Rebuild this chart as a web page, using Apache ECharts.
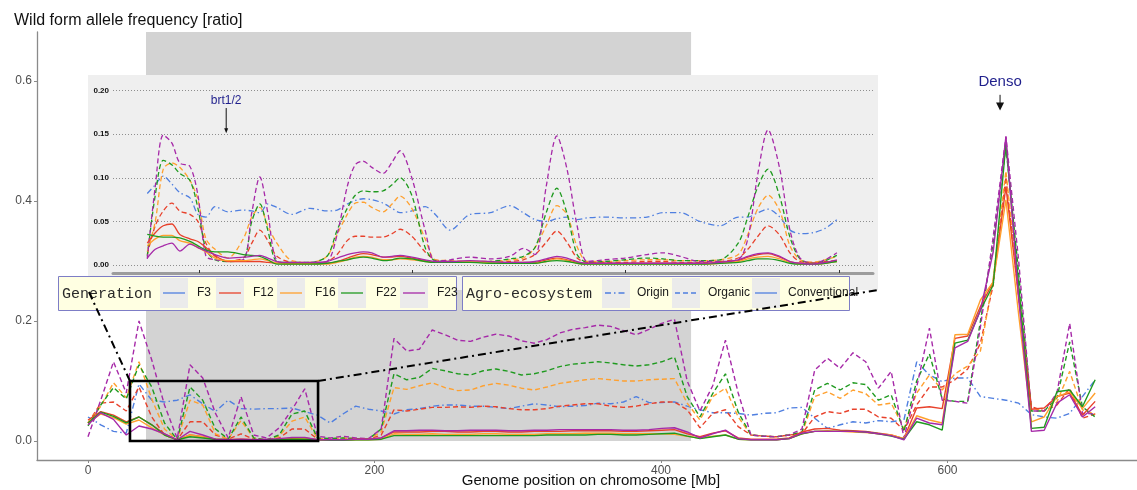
<!DOCTYPE html>
<html>
<head>
<meta charset="utf-8">
<script src="https://cdn.jsdelivr.net/npm/echarts@6/dist/echarts.min.js"></script>
<style>
  html, body { margin: 0; padding: 0; background: #ffffff; }
  #chart { width: 1137px; height: 490px; }
</style>
</head>
<body>
<div id="chart"></div>
<script>
// ---------- Genome-wide scan (windows along the chromosome, Mb) ----------
const positionMb = [
  0, 8.9, 17.8, 26.7, 35.6, 44.5, 53.4, 62.3, 71.2, 80.1,
  89.0, 97.9, 106.8, 115.7, 124.6, 133.5, 142.4, 151.3, 160.2, 169.1,
  178.0, 186.9, 195.8, 204.7, 213.6, 222.5, 231.4, 240.3, 249.2, 258.1,
  267.0, 275.9, 284.8, 293.7, 302.6, 311.5, 320.4, 329.3, 338.2, 347.1,
  356.0, 364.9, 373.8, 382.7, 391.6, 400.5, 409.4, 418.3, 427.2, 436.1,
  445.0, 453.9, 462.8, 471.7, 480.6, 489.5, 498.4, 507.3, 516.2, 525.1,
  534.0, 542.9, 551.8, 560.7, 569.6, 578.5, 587.4, 596.3, 605.2, 614.1,
  623.0, 631.9, 640.8, 649.7, 658.6, 667.5, 676.4, 685.3, 694.2, 703.1
];

const originF3 = [
  0.04, 0.027, 0.016, 0.013, 0.095, 0.068, 0.065, 0.068, 0.077, 0.062,
  0.049, 0.068, 0.054, 0.053, 0.054, 0.054, 0.055, 0.049, 0.043, 0.03,
  0.045, 0.058, 0.053, 0.05, 0.045, 0.052, 0.054, 0.058, 0.06, 0.06,
  0.058, 0.058, 0.056, 0.054, 0.058, 0.062, 0.06, 0.057, 0.058, 0.059,
  0.063, 0.062, 0.065, 0.074, 0.064, 0.064, 0.065, 0.058, 0.052, 0.047,
  0.047, 0.046, 0.043, 0.046, 0.047, 0.055, 0.056, 0.038, 0.021, 0.027,
  0.032, 0.03, 0.034, 0.032, 0.035, 0.132, 0.11, 0.099, 0.105, 0.105,
  0.074, 0.071, 0.068, 0.063, 0.044, 0.04, 0.038, 0.046, 0.074, 0.102
];

const organicF12 = [
  0.03, 0.063, 0.065, 0.05, 0.09, 0.04, 0.01, 0.002, 0.032, 0.032,
  0.01, 0.003, 0.012, 0.003, 0.002, 0.005, 0.02, 0.02, 0.003, 0.003,
  0.003, 0.003, 0.003, 0.01, 0.052, 0.05, 0.053, 0.056, 0.056, 0.057,
  0.056, 0.058, 0.057, 0.054, 0.052, 0.052, 0.054, 0.058, 0.06, 0.062,
  0.062, 0.058, 0.056, 0.058, 0.062, 0.065, 0.065, 0.052, 0.022, 0.046,
  0.052, 0.024, 0.01, 0.008, 0.007, 0.01, 0.012, 0.04, 0.049, 0.046,
  0.053, 0.053, 0.04, 0.038, 0.018, 0.06, 0.09, 0.09, 0.102, 0.12,
  0.163, 0.26, 0.44, 0.24, 0.057, 0.05, 0.06, 0.088, 0.038, 0.045
];

const organicF16 = [
  0.03, 0.058, 0.097, 0.072, 0.132, 0.07, 0.02, 0.002, 0.068, 0.06,
  0.012, 0.003, 0.034, 0.005, 0.002, 0.008, 0.033, 0.04, 0.004, 0.004,
  0.005, 0.004, 0.003, 0.015, 0.089, 0.086, 0.092, 0.097, 0.089, 0.084,
  0.085, 0.092, 0.096, 0.093, 0.088, 0.085, 0.09, 0.096, 0.099, 0.102,
  0.104, 0.102, 0.1, 0.1, 0.102, 0.103, 0.104, 0.063, 0.035, 0.074,
  0.088, 0.04, 0.01, 0.008, 0.007, 0.01, 0.012, 0.074, 0.082, 0.071,
  0.085, 0.079, 0.06, 0.063, 0.021, 0.08, 0.11, 0.085, 0.112, 0.125,
  0.15, 0.27, 0.45, 0.25, 0.055, 0.05, 0.065, 0.116, 0.052, 0.045
];

const organicF22 = [
  0.025, 0.06, 0.089, 0.07, 0.127, 0.09, 0.03, 0.002, 0.09, 0.068,
  0.02, 0.003, 0.04, 0.005, 0.002, 0.01, 0.045, 0.05, 0.005, 0.004,
  0.005, 0.004, 0.003, 0.02, 0.112, 0.102, 0.106, 0.121, 0.117, 0.112,
  0.11, 0.117, 0.12, 0.116, 0.11, 0.112, 0.117, 0.124, 0.128, 0.13,
  0.132, 0.13, 0.127, 0.125, 0.127, 0.132, 0.14, 0.074, 0.04, 0.079,
  0.112, 0.048, 0.01, 0.008, 0.007, 0.01, 0.015, 0.085, 0.096, 0.085,
  0.097, 0.094, 0.068, 0.077, 0.016, 0.1, 0.145, 0.07, 0.066, 0.066,
  0.2, 0.33, 0.49, 0.28, 0.05, 0.05, 0.072, 0.165, 0.057, 0.04
];

const organicF23 = [
  0.007, 0.068, 0.132, 0.08, 0.2, 0.135, 0.06, 0.004, 0.127, 0.105,
  0.046, 0.005, 0.074, 0.01, 0.005, 0.022, 0.052, 0.087, 0.008, 0.005,
  0.008, 0.005, 0.004, 0.02, 0.171, 0.15, 0.153, 0.185, 0.177, 0.168,
  0.166, 0.173, 0.178, 0.175, 0.167, 0.163, 0.169, 0.18, 0.186, 0.189,
  0.193, 0.191, 0.184, 0.177, 0.186, 0.196, 0.203, 0.1, 0.05, 0.092,
  0.168, 0.08, 0.01, 0.008, 0.007, 0.01, 0.02, 0.118, 0.138, 0.121,
  0.147, 0.132, 0.088, 0.116, 0.005, 0.09, 0.188, 0.068, 0.066, 0.063,
  0.19, 0.34, 0.507, 0.3, 0.05, 0.05, 0.08, 0.196, 0.046, 0.045
];

const conventionalF12 = [
  0.035, 0.049, 0.043, 0.032, 0.04, 0.027, 0.012, 0.002, 0.01, 0.007,
  0.003, 0.002, 0.003, 0.002, 0.002, 0.003, 0.004, 0.005, 0.002, 0.002,
  0.002, 0.003, 0.003, 0.005, 0.015, 0.015, 0.015, 0.016, 0.016, 0.015,
  0.015, 0.016, 0.016, 0.015, 0.015, 0.016, 0.016, 0.016, 0.017, 0.017,
  0.017, 0.017, 0.016, 0.016, 0.017, 0.018, 0.019, 0.012, 0.007, 0.013,
  0.017, 0.005, 0.003, 0.003, 0.003, 0.005, 0.015, 0.02, 0.021, 0.018,
  0.017, 0.016, 0.013, 0.01, 0.004, 0.055, 0.057, 0.054, 0.171, 0.175,
  0.224, 0.265, 0.424, 0.24, 0.053, 0.055, 0.074, 0.08, 0.043, 0.066
];

const conventionalF16 = [
  0.03, 0.045, 0.039, 0.028, 0.035, 0.022, 0.01, 0.002, 0.01, 0.007,
  0.003, 0.002, 0.003, 0.002, 0.002, 0.002, 0.003, 0.004, 0.002, 0.001,
  0.001, 0.002, 0.002, 0.003, 0.012, 0.011, 0.011, 0.012, 0.011, 0.011,
  0.011, 0.012, 0.012, 0.011, 0.011, 0.011, 0.012, 0.012, 0.012, 0.013,
  0.013, 0.013, 0.012, 0.012, 0.012, 0.012, 0.011, 0.008, 0.005, 0.008,
  0.01, 0.003, 0.002, 0.002, 0.002, 0.004, 0.012, 0.016, 0.017, 0.016,
  0.015, 0.014, 0.012, 0.01, 0.004, 0.042, 0.035, 0.03, 0.177, 0.178,
  0.235, 0.265, 0.402, 0.21, 0.032, 0.04, 0.074, 0.082, 0.054, 0.08
];

const conventionalF22 = [
  0.03, 0.048, 0.041, 0.03, 0.04, 0.027, 0.01, 0.002, 0.007, 0.005,
  0.003, 0.002, 0.002, 0.002, 0.002, 0.002, 0.003, 0.003, 0.002, 0.001,
  0.001, 0.002, 0.002, 0.003, 0.009, 0.009, 0.009, 0.009, 0.009, 0.009,
  0.009, 0.009, 0.009, 0.009, 0.009, 0.009, 0.01, 0.01, 0.01, 0.01,
  0.011, 0.011, 0.01, 0.01, 0.011, 0.012, 0.013, 0.008, 0.004, 0.007,
  0.01, 0.003, 0.002, 0.002, 0.002, 0.004, 0.012, 0.016, 0.016, 0.016,
  0.016, 0.015, 0.012, 0.008, 0.003, 0.032, 0.027, 0.018, 0.163, 0.168,
  0.218, 0.26, 0.496, 0.26, 0.021, 0.023, 0.082, 0.085, 0.057, 0.102
];

const conventionalF23 = [
  0.027, 0.047, 0.036, 0.01, 0.025, 0.02, 0.012, 0.002, 0.016, 0.01,
  0.003, 0.002, 0.003, 0.002, 0.003, 0.004, 0.006, 0.006, 0.002, 0.002,
  0.002, 0.003, 0.003, 0.005, 0.017, 0.017, 0.018, 0.018, 0.017, 0.017,
  0.018, 0.018, 0.018, 0.017, 0.017, 0.018, 0.018, 0.019, 0.019, 0.019,
  0.019, 0.019, 0.018, 0.018, 0.019, 0.021, 0.022, 0.015, 0.005, 0.012,
  0.018, 0.004, 0.002, 0.002, 0.002, 0.004, 0.013, 0.016, 0.016, 0.016,
  0.016, 0.015, 0.012, 0.009, 0.002, 0.038, 0.03, 0.027, 0.155, 0.166,
  0.218, 0.315, 0.508, 0.238, 0.016, 0.018, 0.063, 0.077, 0.04, 0.057
];

// ---------- Fine-scale scan of the 30-160 Mb window ----------
const insetPositionMb = [
  30.3, 31.8, 33.3, 34.9, 36.4, 38.3, 39.8, 41.3, 43.0, 45.4,
  48.3, 49.9, 51.4, 52.9, 54.6, 57.4, 60.8, 64.0, 65.9, 67.8,
  69.3, 70.8, 72.4, 74.5, 76.2, 77.7, 79.9, 82.4, 84.3, 87.1,
  90.8, 94.6, 98.3, 100.8, 103.0, 105.1, 107.1, 109.0, 110.9, 112.8,
  116.1, 119.9, 124.0, 127.0, 130.2, 133.9, 137.7, 141.1, 142.9, 144.8,
  146.7, 148.9, 150.8, 152.7, 155.1, 157.4, 159.6
];

const insetOriginF3 = [
  0.082, 0.092, 0.102, 0.093, 0.083, 0.077, 0.058, 0.055, 0.067, 0.061,
  0.063, 0.062, 0.06, 0.07, 0.066, 0.058, 0.065, 0.062, 0.063, 0.07,
  0.074, 0.076, 0.075, 0.071, 0.065, 0.06, 0.062, 0.067, 0.058, 0.04,
  0.058, 0.06, 0.068, 0.06, 0.052, 0.05, 0.053, 0.055, 0.052, 0.054,
  0.055, 0.054, 0.055, 0.06, 0.06, 0.05, 0.045, 0.055, 0.055, 0.06,
  0.064, 0.055, 0.04, 0.036, 0.037, 0.042, 0.052
];

const insetOrganicF12 = [
  0.012, 0.045, 0.062, 0.071, 0.062, 0.058, 0.05, 0.025, 0.01, 0.005,
  0.008, 0.025, 0.04, 0.028, 0.01, 0.003, 0.002, 0.004, 0.012, 0.028,
  0.033, 0.033, 0.032, 0.032, 0.036, 0.041, 0.033, 0.015, 0.006, 0.004,
  0.003, 0.003, 0.004, 0.006, 0.012, 0.026, 0.039, 0.026, 0.008, 0.003,
  0.003, 0.003, 0.004, 0.004, 0.003, 0.003, 0.004, 0.008, 0.018, 0.033,
  0.045, 0.034, 0.014, 0.004, 0.003, 0.004, 0.005
];

const insetOrganicF16 = [
  0.015, 0.05, 0.11, 0.117, 0.112, 0.097, 0.075, 0.03, 0.018, 0.008,
  0.03, 0.055, 0.066, 0.045, 0.025, 0.005, 0.003, 0.01, 0.035, 0.058,
  0.071, 0.072, 0.066, 0.061, 0.07, 0.079, 0.065, 0.03, 0.006, 0.005,
  0.004, 0.004, 0.006, 0.008, 0.02, 0.045, 0.068, 0.058, 0.021, 0.004,
  0.004, 0.005, 0.006, 0.006, 0.005, 0.005, 0.006, 0.012, 0.035, 0.065,
  0.08, 0.062, 0.022, 0.006, 0.003, 0.006, 0.01
];

const insetOrganicF22 = [
  0.01, 0.08, 0.12, 0.115, 0.105, 0.097, 0.065, 0.018, 0.006, 0.004,
  0.006, 0.05, 0.07, 0.04, 0.004, 0.003, 0.003, 0.01, 0.04, 0.065,
  0.08, 0.085, 0.084, 0.085, 0.092, 0.1, 0.08, 0.02, 0.005, 0.004,
  0.003, 0.004, 0.007, 0.01, 0.02, 0.06, 0.088, 0.059, 0.012, 0.003,
  0.004, 0.006, 0.008, 0.007, 0.005, 0.005, 0.006, 0.025, 0.055, 0.09,
  0.11, 0.078, 0.032, 0.007, 0.002, 0.005, 0.011
];

const insetOrganicF23 = [
  0.007, 0.09, 0.149, 0.14, 0.117, 0.113, 0.08, 0.01, 0.006, 0.005,
  0.006, 0.06, 0.101, 0.06, 0.005, 0.002, 0.002, 0.004, 0.035, 0.09,
  0.115, 0.119, 0.112, 0.105, 0.118, 0.131, 0.1, 0.04, 0.004, 0.006,
  0.009, 0.007, 0.01, 0.019, 0.012, 0.09, 0.148, 0.11, 0.045, 0.004,
  0.006, 0.008, 0.012, 0.014, 0.01, 0.004, 0.004, 0.006, 0.03, 0.105,
  0.155, 0.11, 0.04, 0.008, 0.002, 0.006, 0.014
];

const insetConventionalF12 = [
  0.025, 0.037, 0.045, 0.047, 0.035, 0.03, 0.027, 0.02, 0.011, 0.004,
  0.004, 0.004, 0.004, 0.003, 0.002, 0.002, 0.002, 0.002, 0.004, 0.008,
  0.011, 0.013, 0.012, 0.009, 0.009, 0.01, 0.008, 0.005, 0.003, 0.004,
  0.004, 0.003, 0.003, 0.003, 0.003, 0.006, 0.008, 0.006, 0.003, 0.002,
  0.002, 0.002, 0.002, 0.002, 0.002, 0.002, 0.003, 0.005, 0.009, 0.012,
  0.013, 0.009, 0.004, 0.002, 0.002, 0.003, 0.005
];

const insetConventionalF16 = [
  0.022, 0.03, 0.034, 0.034, 0.028, 0.025, 0.02, 0.015, 0.008, 0.005,
  0.005, 0.006, 0.007, 0.005, 0.002, 0.001, 0.001, 0.001, 0.003, 0.006,
  0.009, 0.01, 0.009, 0.006, 0.006, 0.007, 0.006, 0.004, 0.003, 0.003,
  0.004, 0.003, 0.002, 0.002, 0.002, 0.004, 0.007, 0.005, 0.002, 0.001,
  0.001, 0.001, 0.001, 0.001, 0.001, 0.001, 0.002, 0.004, 0.007, 0.009,
  0.01, 0.007, 0.003, 0.001, 0.001, 0.002, 0.004
];

const insetConventionalF22 = [
  0.035, 0.033, 0.032, 0.032, 0.031, 0.027, 0.022, 0.017, 0.015, 0.015,
  0.012, 0.011, 0.01, 0.006, 0.001, 0.001, 0.001, 0.002, 0.004, 0.006,
  0.008, 0.009, 0.008, 0.005, 0.006, 0.008, 0.007, 0.004, 0.003, 0.003,
  0.003, 0.002, 0.002, 0.002, 0.002, 0.004, 0.005, 0.004, 0.002, 0.001,
  0.001, 0.001, 0.001, 0.001, 0.001, 0.001, 0.002, 0.003, 0.005, 0.007,
  0.007, 0.005, 0.002, 0.001, 0.001, 0.002, 0.004
];

const insetConventionalF23 = [
  0.008, 0.018, 0.022, 0.025, 0.016, 0.024, 0.02, 0.016, 0.012, 0.008,
  0.009, 0.01, 0.011, 0.008, 0.004, 0.003, 0.003, 0.004, 0.008, 0.012,
  0.014, 0.015, 0.014, 0.009, 0.01, 0.011, 0.009, 0.006, 0.004, 0.004,
  0.005, 0.004, 0.003, 0.003, 0.004, 0.007, 0.01, 0.008, 0.004, 0.002,
  0.002, 0.002, 0.002, 0.002, 0.002, 0.002, 0.003, 0.006, 0.01, 0.013,
  0.014, 0.01, 0.004, 0.002, 0.001, 0.003, 0.006
];

// ---------- Labels and annotated regions ----------
const generations = ['F3', 'F12', 'F16', 'F22', 'F23'];
const ecosystems = ['Origin', 'Organic', 'Conventional'];
const mainYTicks = [0, 0.2, 0.4, 0.6];
const mainXTicks = [0, 200, 400, 600];
const insetYTicks = [0, 0.05, 0.1, 0.15, 0.2];
const insetXTicks = [40, 80, 120, 160];
const shadedRegionMb = [40.5, 421];
const zoomWindowMb = [29.3, 160.6];
const zoomWindowFreq = [0, 0.1];
const densoMark = { mb: 636.7, label: 0.598, from: 0.577, to: 0.551 };
const brtMark = { mb: 45.1, label: 0.189, from: 0.18, to: 0.151 };
const xAxisTitle = 'Genome position on chromosome [Mb]';

// ---------- Styling ----------
const FONT = '"Liberation Sans", Arial, sans-serif';
const MONO = '"Liberation Mono", "DejaVu Sans Mono", monospace';
const generationColor = { F3: '#4f7fe0', F12: '#e8412b', F16: '#ffa02e', F22: '#1f9a1f', F23: '#a629a8' };
const ecosystemDash = { Origin: [6, 3, 1.5, 3], Organic: [5, 3], Conventional: 'solid' };
const MAIN_Y = [-0.0317, 0.6817];
const MAIN_X = [-35.6, 732.3];

function lineSeries(xs, ys, gen, eco, grid) {
  return {
    type: 'line',
    name: eco + ' ' + gen,
    xAxisIndex: grid, yAxisIndex: grid,
    data: xs.map((x, k) => [x, ys[k]]),
    symbol: 'none', showSymbol: false, silent: true,
    smooth: grid === 1 ? 0.3 : false,
    z: grid === 1 ? 20 : 2,
    lineStyle: { color: generationColor[gen], width: grid === 1 ? 1.3 : 1.4, type: ecosystemDash[eco] }
  };
}

const mainSeries = [
  lineSeries(positionMb, originF3, 'F3', 'Origin', 0),
  lineSeries(positionMb, organicF12, 'F12', 'Organic', 0),
  lineSeries(positionMb, organicF16, 'F16', 'Organic', 0),
  lineSeries(positionMb, organicF22, 'F22', 'Organic', 0),
  lineSeries(positionMb, organicF23, 'F23', 'Organic', 0),
  lineSeries(positionMb, conventionalF12, 'F12', 'Conventional', 0),
  lineSeries(positionMb, conventionalF16, 'F16', 'Conventional', 0),
  lineSeries(positionMb, conventionalF22, 'F22', 'Conventional', 0),
  lineSeries(positionMb, conventionalF23, 'F23', 'Conventional', 0)
];
// shaded block behind the curves
mainSeries[0].markArea = {
  silent: true, z: 1,
  itemStyle: { color: '#d3d3d3' },
  data: [[{ xAxis: shadedRegionMb[0], yAxis: 0 }, { xAxis: shadedRegionMb[1], yAxis: MAIN_Y[1] }]]
};
// outline of the zoomed window
mainSeries[1].markArea = {
  silent: true, z: 6,
  itemStyle: { color: 'rgba(0,0,0,0)', borderColor: '#000', borderWidth: 2.6 },
  data: [[{ xAxis: zoomWindowMb[0], yAxis: zoomWindowFreq[0] }, { xAxis: zoomWindowMb[1], yAxis: zoomWindowFreq[1] }]]
};

const insetSeries = [
  lineSeries(insetPositionMb, insetOriginF3, 'F3', 'Origin', 1),
  lineSeries(insetPositionMb, insetOrganicF12, 'F12', 'Organic', 1),
  lineSeries(insetPositionMb, insetOrganicF16, 'F16', 'Organic', 1),
  lineSeries(insetPositionMb, insetOrganicF22, 'F22', 'Organic', 1),
  lineSeries(insetPositionMb, insetOrganicF23, 'F23', 'Organic', 1),
  lineSeries(insetPositionMb, insetConventionalF12, 'F12', 'Conventional', 1),
  lineSeries(insetPositionMb, insetConventionalF16, 'F16', 'Conventional', 1),
  lineSeries(insetPositionMb, insetConventionalF22, 'F22', 'Conventional', 1),
  lineSeries(insetPositionMb, insetConventionalF23, 'F23', 'Conventional', 1)
];

const isTick = (v, list) => list.some(t => Math.abs(t - v) < 1e-6);

const option = {
  animation: false,
  backgroundColor: '#ffffff',
  textStyle: { fontFamily: FONT },
  title: {
    text: 'Wild form allele frequency [ratio]',
    left: 9, top: 8,
    textStyle: { fontFamily: FONT, fontSize: 16, fontWeight: 'normal', color: '#111' }
  },
  grid: [
    { left: 37, right: 0, top: 32, bottom: 30, containLabel: false, outerBoundsMode: 'none' },
    { left: 113, top: 90.6, width: 760, height: 182.4, containLabel: false, outerBoundsMode: 'none' }
  ],
  xAxis: [
    {
      type: 'value', gridIndex: 0, min: MAIN_X[0], max: MAIN_X[1],
      axisLine: { onZero: false, lineStyle: { color: '#8a8a8a', width: 1.3 } },
      axisTick: { length: 3, customValues: mainXTicks, lineStyle: { color: '#8a8a8a' } },
      axisLabel: { customValues: mainXTicks, color: '#4d4d4d', fontSize: 12, margin: 5,
        formatter: v => isTick(v, mainXTicks) ? String(v) : '' },
      splitLine: { show: false }
    },
    {
      type: 'value', gridIndex: 1, min: 23.875, max: 166.375, z: 15,
      axisLine: { onZero: false, lineStyle: { color: '#9c9c9c', width: 3 } },
      axisTick: { inside: true, length: 3, customValues: insetXTicks, lineStyle: { color: '#333' } },
      axisLabel: { show: false },
      splitLine: { show: false }
    }
  ],
  yAxis: [
    {
      type: 'value', gridIndex: 0, min: MAIN_Y[0], max: MAIN_Y[1],
      axisLine: { show: true, onZero: false, lineStyle: { color: '#8a8a8a', width: 1.3 } },
      axisTick: { show: true, length: 3, customValues: mainYTicks, lineStyle: { color: '#8a8a8a' } },
      axisLabel: { customValues: mainYTicks, color: '#4d4d4d', fontSize: 12, margin: 5,
        formatter: v => isTick(v, mainYTicks) ? v.toFixed(1) : '' },
      splitLine: { show: false }
    },
    {
      type: 'value', gridIndex: 1, min: -0.00917, max: 0.2, z: 15,
      axisLine: { show: false, onZero: false },
      axisTick: { show: false, customValues: insetYTicks },
      axisLabel: { customValues: insetYTicks, color: '#111', fontSize: 8, fontWeight: 'bold', margin: 4,
        formatter: v => isTick(v, insetYTicks) ? v.toFixed(2) : '' },
      splitLine: { show: true, lineStyle: { color: '#8e8e8e', width: 1, type: [1, 2] } }
    }
  ],
  series: mainSeries.concat(insetSeries)
};

const chart = echarts.init(document.getElementById('chart'), null, { renderer: 'canvas' });
chart.setOption(option);

// ---------- Overlay: inset panel, legends, connectors, annotations ----------
const toPx = (grid, x, y) => chart.convertToPixel({ gridIndex: grid }, [x, y]);
const panel = { x: 88, y: 75, w: 790, h: 215 };

function text(x, y, str, font, fill, align) {
  return { type: 'text', z: 32, silent: true, x: x, y: y,
    style: { text: str, font: font, fill: fill, align: align || 'left', verticalAlign: 'middle',
             textAlign: align || 'left', textVerticalAlign: 'middle' } };
}
function line(x1, y1, x2, y2, stroke, width, dash, z) {
  return { type: 'line', z: z || 32, silent: true, shape: { x1, y1, x2, y2 },
    style: { stroke: stroke, lineWidth: width, lineDash: dash || null } };
}
function arrow(grid, mark, color, labelFont, headW, headH) {
  const top = toPx(grid, mark.mb, mark.from);
  const tip = toPx(grid, mark.mb, mark.to);
  const lab = toPx(grid, mark.mb, mark.label);
  return [
    line(top[0], top[1], tip[0], tip[1] - headH + 1, '#111', 1, null, 45),
    { type: 'polygon', z: 45, silent: true,
      shape: { points: [[tip[0] - headW / 2, tip[1] - headH], [tip[0] + headW / 2, tip[1] - headH], [tip[0], tip[1]]] },
      style: { fill: '#111' } },
    Object.assign(text(lab[0], lab[1], mark.text, labelFont, color, 'center'), { z: 45 })
  ];
}

const g = [];
g.push({ type: 'rect', z: 10, silent: true, shape: { x: panel.x, y: panel.y, width: panel.w, height: panel.h },
  style: { fill: '#efefef' } });

// x-axis title, centred under the plot area
g.push(Object.assign(text(591, 481, xAxisTitle, '15px ' + FONT, '#111', 'center'), { z: 5 }));

// legend boxes
const legendBoxes = [
  { x: 58, w: 398, title: 'Generation', swatchX: [160, 216, 277, 338, 400], labelX: [197, 253, 315, 376, 437],
    items: generations.map(gn => ({ label: gn, color: generationColor[gn], dash: null })) },
  { x: 462, w: 387, title: 'Agro-ecosystem', swatchX: [602, 672, 752], labelX: [637, 708, 788],
    items: ecosystems.map(e => ({ label: e, color: generationColor.F3,
      dash: ecosystemDash[e] === 'solid' ? null : ecosystemDash[e] })) }
];
legendBoxes.forEach(b => {
  g.push({ type: 'rect', z: 30, silent: true, shape: { x: b.x + 0.5, y: 276.5, width: b.w, height: 34 },
    style: { fill: '#ffffe2', stroke: '#7d7dc6', lineWidth: 1 } });
  g.push(text(b.x + 4, 294, b.title, '15px ' + MONO, '#2a2a2a'));
  b.items.forEach((it, k) => {
    const sx = b.swatchX[k];
    g.push({ type: 'rect', z: 31, silent: true, shape: { x: sx, y: 278, width: 28, height: 30 }, style: { fill: '#ebebeb' } });
    g.push(line(sx + 3, 293, sx + 25, 293, it.color, 1.3, it.dash));
    g.push(text(b.labelX[k], 293, it.label, '12px ' + FONT, '#1a1a1a'));
  });
});

// dash-dot connectors from the zoom window to the inset panel
const cornerL = toPx(0, zoomWindowMb[0], zoomWindowFreq[1]);
const cornerR = toPx(0, zoomWindowMb[1], zoomWindowFreq[1]);
g.push(line(cornerL[0], cornerL[1], panel.x, panel.y + panel.h, '#000', 2, [8, 4, 2, 4], 40));
g.push(line(cornerR[0], cornerR[1], panel.x + panel.w, panel.y + panel.h, '#000', 2, [8, 4, 2, 4], 40));

// gene annotations
densoMark.text = 'Denso';
brtMark.text = 'brt1/2';
arrow(0, densoMark, '#1f1f8c', '15px ' + FONT, 8, 8).forEach(e => g.push(e));
arrow(1, brtMark, '#1f1f8c', '12px ' + FONT, 4, 5).forEach(e => g.push(e));

chart.setOption({ graphic: { elements: g } });
</script>
</body>
</html>
